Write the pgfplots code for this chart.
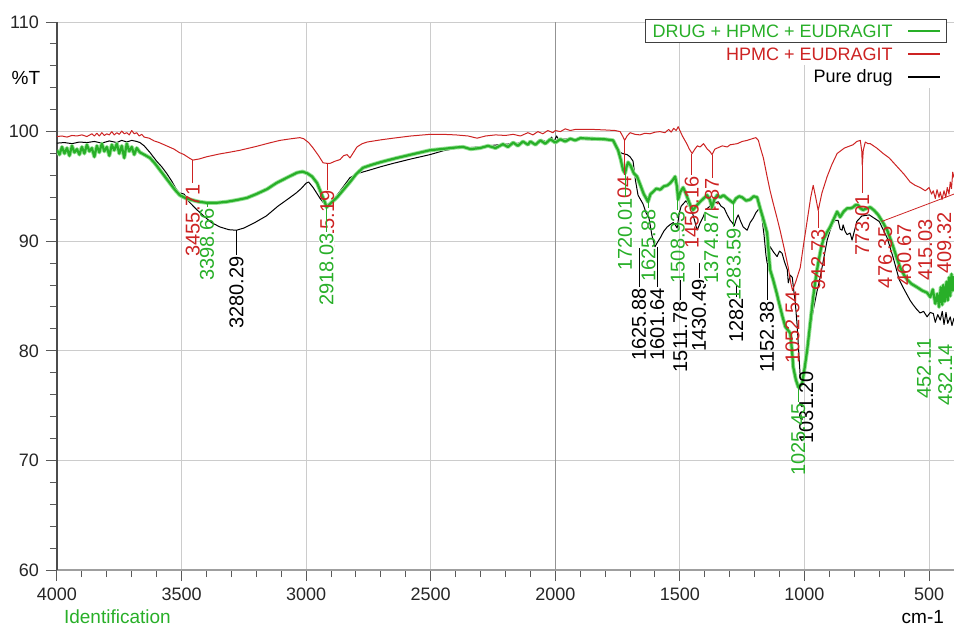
\documentclass[border=0pt]{standalone}
\usepackage{fontspec}
\setmainfont{Liberation Sans}
\usepackage{pgfplots}
\pgfplotsset{compat=1.18}
\definecolor{cgreen}{RGB}{40,175,40}
\definecolor{lgreen}{RGB}{150,225,150}
\definecolor{cred}{RGB}{205,35,35}
\newcommand{\lblfont}{\fontsize{10}{10}\selectfont}
\newcommand{\plab}[5]{\draw[#1, line width=0.4pt] (axis cs:#2,#4) -- (axis cs:#2,#3) node[rotate=90, anchor=east, inner sep=0.3pt, text=#1, font=\lblfont] {#5};}
\newcommand{\plabf}[5]{\draw[#1, line width=0.4pt] (axis cs:#2,#4) -- (axis cs:#2,#3) node[rotate=90, anchor=east, inner sep=0.3pt, fill=white, text=#1, font=\lblfont] {#5};}
\begin{document}
\begin{tikzpicture}
\begin{axis}[
  scale only axis, width=448.5pt, height=274pt,
  x dir=reverse, xmin=400, xmax=4000, ymin=60, ymax=110,
  xtick={500,1000,...,4000}, ytick={60,70,...,110},
  minor x tick num=4, minor y tick num=4,
  axis x line*=bottom, axis y line*=left,
  axis line style={-},
  x axis line style={gray!75, line width=1.3pt},
  y axis line style={black!70, line width=0.6pt},
  tick align=outside,
  major tick length=5.5pt, minor tick length=3.5pt,
  tick style={black!65, line width=0.5pt},
  grid=major,
  major grid style={gray!40, line width=0.5pt},
  ticklabel style={font=\fontsize{9}{10}\selectfont, text=black!85},
  /pgf/number format/assume math mode=true,
  /pgf/number format/1000 sep={},
  clip mode=individual,
]
\draw[gray!85, line width=0.7pt] (axis cs:2000,60) -- (axis cs:2000,110);
% Pure drug (black)
\addplot[black, line width=0.5pt, line join=round] coordinates {
(4000,98.95)(3970,99.0)(3940,98.9)(3910,99.05)(3880,99.0)(3850,99.1)(3820,98.95)(3790,99.15)(3760,99.0)(3740,99.2)(3720,99.05)(3700,99.2)(3680,99.1)(3667,99.0)(3650,98.7)(3627,98.1)(3600,97.3)(3580,96.8)(3560,96.2)(3540,95.5)(3520,94.7)(3508,94.4)(3490,94.3)(3470,93.6)(3440,92.9)(3406,92.2)(3380,91.7)(3346,91.3)(3310,91.05)(3280,91.0)(3250,91.2)(3206,91.7)(3160,92.3)(3113,93.2)(3070,93.9)(3040,94.4)(3020,94.8)(3000,95.3)(2990,95.4)(2972,94.9)(2944,93.9)(2930,93.5)(2916,93.3)(2900,93.6)(2876,94.2)(2850,95.0)(2824,95.8)(2790,96.2)(2744,96.5)(2700,96.8)(2651,97.1)(2580,97.5)(2503,97.9)(2450,98.25)(2394,98.5)(2340,98.55)(2302,98.6)(2250,98.75)(2200,98.85)(2169,98.9)(2120,99.0)(2080,98.9)(2050,99.2)(2030,99.0)(2015,99.5)(2005,99.1)(1995,99.6)(1985,99.2)(1970,99.3)(1940,99.35)(1900,99.3)(1850,99.25)(1800,99.2)(1768,99.2)(1755,98.6)(1748,98.2)(1730,98.0)(1712,97.9)(1700,97.7)(1688,97.3)(1678,95.5)(1668,94.2)(1658,93.8)(1648,93.4)(1636,92.6)(1624,92.1)(1612,90.5)(1600,89.5)(1590,89.9)(1579,90.3)(1565,90.9)(1551,91.3)(1540,91.5)(1527,91.7)(1519,91.5)(1511,91.2)(1503,92.5)(1495,93.2)(1475,93.7)(1460,93.1)(1451,92.7)(1440,91.8)(1431,91.0)(1420,91.6)(1407,92.2)(1395,92.9)(1379,93.2)(1360,93.5)(1346,93.6)(1335,93.2)(1322,93.0)(1310,92.4)(1298,91.9)(1290,91.7)(1282,91.4)(1274,92.0)(1266,92.4)(1256,91.8)(1246,91.3)(1230,91.0)(1218,91.7)(1206,92.1)(1195,92.6)(1185,92.9)(1178,93.1)(1170,92.0)(1162,90.5)(1155,88.8)(1150,88.0)(1144,88.9)(1138,89.5)(1124,89.0)(1110,88.6)(1100,89.1)(1090,88.9)(1080,88.1)(1069,87.4)(1065,86.2)(1057,86.9)(1049,86.7)(1043,85.5)(1037,84.4)(1029,82.2)(1022,79.5)(1017,77.6)(1010,77.2)(1005,77.3)(997,78.6)(989,80.3)(977,82.0)(965,83.7)(950,85.4)(937,86.7)(923,88.4)(909,90.1)(897,91.0)(887,91.6)(877,91.9)(865,91.9)(857,91.1)(849,91.0)(845,91.5)(837,90.9)(829,90.6)(817,90.75)(809,90.1)(790,91.8)(770,92.3)(740,92.4)(700,91.8)(668,90.3)(644,88.5)(620,86.5)(600,85.6)(576,84.6)(564,84.2)(550,83.8)(536,83.45)(522,83.6)(508,83.1)(495,83.5)(483,83.4)(475,82.6)(465,83.3)(455,82.8)(447,83.6)(440,82.4)(432,83.5)(425,82.5)(415,83.1)(408,82.3)(400,83.0)
};
% HPMC + EUDRAGIT (red)
\addplot[cred, line width=0.5pt, line join=round] coordinates {
(4000,99.55)(3980,99.6)(3960,99.5)(3940,99.65)(3920,99.6)(3900,99.7)(3880,99.55)(3860,99.8)(3850,99.6)(3840,99.85)(3830,99.6)(3820,99.9)(3810,99.65)(3800,99.8)(3790,99.7)(3780,100.0)(3770,99.7)(3760,99.9)(3750,99.75)(3740,100.05)(3730,99.8)(3720,99.9)(3710,99.7)(3700,100.1)(3690,99.8)(3680,99.9)(3670,99.6)(3660,99.75)(3650,99.5)(3630,99.4)(3610,99.15)(3590,99.0)(3570,98.8)(3550,98.6)(3530,98.4)(3510,98.1)(3490,97.9)(3470,97.6)(3455,97.4)(3430,97.5)(3400,97.7)(3350,97.95)(3300,98.15)(3265,98.3)(3200,98.65)(3150,98.95)(3105,99.2)(3060,99.35)(3025,99.45)(3010,99.35)(2990,99.0)(2972,98.5)(2950,97.8)(2932,97.15)(2915,97.1)(2904,97.1)(2884,97.3)(2864,97.45)(2850,97.8)(2836,97.9)(2824,97.6)(2810,98.1)(2796,98.6)(2775,98.9)(2755,99.05)(2700,99.25)(2651,99.4)(2580,99.6)(2503,99.75)(2450,99.75)(2400,99.7)(2350,99.6)(2314,99.4)(2280,99.6)(2240,99.7)(2200,99.65)(2169,99.75)(2140,99.6)(2110,99.9)(2090,99.7)(2070,100.0)(2050,99.8)(2030,100.1)(2010,99.9)(2000,100.1)(1980,100.0)(1960,100.25)(1940,100.1)(1920,100.2)(1900,100.2)(1850,100.2)(1800,100.15)(1760,100.1)(1740,100.0)(1730,99.6)(1722,99.2)(1712,99.6)(1700,99.9)(1680,99.75)(1660,99.7)(1640,99.85)(1620,99.8)(1600,99.95)(1580,100.0)(1560,99.9)(1545,100.2)(1535,99.95)(1525,100.3)(1515,100.1)(1507,100.45)(1500,100.1)(1490,99.6)(1475,99.0)(1462,98.4)(1451,98.0)(1440,98.4)(1430,98.7)(1419,98.6)(1405,98.9)(1390,98.4)(1380,98.2)(1371,97.9)(1360,98.4)(1350,98.5)(1330,98.7)(1310,98.6)(1298,98.8)(1270,98.9)(1250,99.1)(1230,99.2)(1210,99.35)(1195,99.45)(1185,99.2)(1178,98.6)(1165,97.6)(1150,95.9)(1138,94.6)(1126,93.5)(1110,92.1)(1098,91.0)(1080,89.2)(1065,87.6)(1055,86.2)(1048,85.5)(1035,86.3)(1017,87.6)(1003,89.8)(989,91.9)(975,94.0)(965,95.1)(955,94.0)(945,92.8)(930,94.4)(909,95.9)(890,97.0)(869,98.0)(840,98.5)(805,98.8)(790,99.1)(776,99.2)(770,98.2)(768,96.9)(764,98.3)(756,99.05)(745,98.9)(736,98.9)(710,98.5)(684,98.0)(660,97.6)(628,96.8)(600,96.1)(576,95.4)(556,95.1)(536,94.9)(515,94.6)(500,94.9)(490,94.3)(483,94.6)(475,93.9)(468,94.7)(460,94.0)(455,94.5)(448,93.8)(440,94.6)(433,94.0)(427,94.9)(420,94.3)(415,95.4)(410,94.8)(405,96.3)(400,95.8)
};
% DRUG + HPMC + EUDRAGIT (green)
\addplot[cgreen, line width=1.1pt, line join=round, preaction={draw, lgreen, line width=2.0pt, line join=round}] coordinates {
(4000,98.3)(3990,97.9)(3980,98.6)(3970,98.0)(3960,98.5)(3950,97.8)(3940,98.7)(3930,98.1)(3920,98.4)(3910,97.9)(3900,98.6)(3890,98.0)(3880,98.8)(3870,98.2)(3860,98.5)(3850,97.7)(3840,98.7)(3830,98.1)(3820,98.9)(3810,98.2)(3800,98.6)(3790,97.8)(3780,98.8)(3770,98.3)(3760,98.9)(3750,98.0)(3740,98.7)(3730,97.6)(3720,98.9)(3710,98.2)(3700,98.6)(3690,97.9)(3680,98.5)(3667,98.1)(3650,97.9)(3627,97.6)(3607,97.1)(3587,96.5)(3567,95.9)(3547,95.3)(3527,94.7)(3507,94.2)(3486,93.95)(3466,93.8)(3430,93.6)(3398,93.5)(3360,93.5)(3318,93.6)(3280,93.75)(3238,93.95)(3200,94.3)(3157,94.75)(3120,95.3)(3077,95.8)(3037,96.25)(3015,96.35)(2996,96.2)(2976,95.9)(2956,95.3)(2940,94.4)(2924,93.5)(2918,93.1)(2900,93.5)(2876,94.0)(2850,94.7)(2824,95.4)(2800,96.1)(2772,96.7)(2740,96.95)(2703,97.2)(2670,97.4)(2635,97.6)(2570,97.95)(2503,98.3)(2440,98.45)(2400,98.55)(2370,98.6)(2340,98.4)(2302,98.5)(2270,98.7)(2240,98.5)(2210,98.85)(2190,98.6)(2169,99.0)(2150,98.7)(2130,99.1)(2110,98.8)(2100,99.1)(2080,98.8)(2060,99.2)(2040,98.9)(2020,99.3)(2000,99.0)(1980,99.3)(1960,99.1)(1940,99.35)(1920,99.2)(1900,99.4)(1850,99.35)(1800,99.3)(1768,99.2)(1748,98.3)(1738,97.5)(1728,96.5)(1720,96.2)(1714,96.8)(1708,97.2)(1698,96.9)(1685,96.2)(1672,95.9)(1660,95.2)(1645,94.3)(1635,93.9)(1628,93.6)(1618,94.3)(1608,94.5)(1595,94.8)(1579,94.7)(1565,95.0)(1550,95.1)(1539,95.3)(1528,95.6)(1519,95.9)(1512,95.0)(1507,93.8)(1498,94.5)(1487,94.9)(1477,94.4)(1467,93.8)(1457,93.2)(1447,92.85)(1435,93.2)(1419,93.6)(1405,93.9)(1391,94.2)(1380,93.8)(1371,93.1)(1362,93.8)(1350,94.2)(1338,94.0)(1325,94.2)(1310,93.9)(1298,93.7)(1286,93.5)(1275,93.9)(1262,94.1)(1250,94.0)(1234,93.7)(1218,93.8)(1204,94.1)(1190,94.0)(1178,93.0)(1165,92.0)(1150,90.75)(1142,88.5)(1138,87.4)(1126,86.5)(1112,85.3)(1098,84.0)(1088,83.1)(1077,82.2)(1067,81.9)(1057,81.6)(1050,80.0)(1045,78.5)(1035,77.4)(1025,76.7)(1015,76.9)(1009,77.05)(999,78.5)(989,80.1)(977,82.5)(965,84.9)(955,86.6)(945,88.0)(935,89.2)(925,90.1)(910,90.8)(897,91.3)(885,91.9)(869,92.7)(857,92.2)(843,92.7)(829,93.0)(815,93.0)(805,93.1)(795,93.3)(785,93.3)(775,93.0)(765,92.85)(750,93.0)(736,93.1)(720,92.8)(704,92.4)(685,91.7)(668,91.0)(655,90.2)(644,89.5)(630,88.5)(616,87.6)(600,86.9)(588,86.5)(570,86.1)(548,85.8)(528,85.5)(508,85.3)(495,84.9)(485,85.6)(475,84.3)(467,85.2)(460,84.0)(453,85.8)(447,84.2)(443,86.0)(437,84.5)(430,86.3)(425,84.6)(420,86.7)(415,85.0)(410,87.0)(405,85.5)(400,86.8)
};
% red peak labels
\plab{cred}{3455}{95.3}{97.4}{3455.71}
\plab{cred}{2915}{94.7}{97.1}{2915.19}
\plab{cred}{1722}{96.0}{99.2}{1721.04}
\plab{cred}{1452}{96.0}{98.0}{1456.16}
\plab{cred}{1371}{95.8}{97.9}{1374.87}
\plab{cred}{1048}{85.5}{85.5}{1052.54}
\plab{cred}{945}{91.2}{92.8}{942.73}
\plab{cred}{768}{94.4}{96.9}{773.01}
\plab{cred}{676}{91.4}{91.4}{476.35}
\plab{cred}{600}{91.6}{91.6}{460.67}
\plab{cred}{515}{92.1}{92.1}{415.03}
\plab{cred}{439}{92.7}{92.7}{409.32}
\draw[cred, line width=0.4pt] (axis cs:690,91.8) -- (axis cs:400,94.3);
% black peak labels
\plab{black}{3280}{88.7}{91.0}{3280.29}
\plab{black}{1664}{85.8}{89.4}{1625.88}
\plab{black}{1591}{85.8}{89.5}{1601.64}
\plab{black}{1499}{84.6}{86.5}{1511.78}
\plab{black}{1423}{86.6}{88.0}{1430.49}
\plab{black}{1274}{84.9}{86.0}{1282}
\plab{black}{1150}{84.6}{88.0}{1152.38}
\plab{black}{993}{78.25}{78.25}{1031.20}
% green peak labels
\plab{cgreen}{3398}{93.1}{93.5}{3398.66}
\plabf{cgreen}{2918}{90.8}{93.1}{2918.03}
\plabf{cgreen}{1720}{94.0}{96.2}{1720.01}
\plab{cgreen}{1626}{93.0}{93.6}{1625.88}
\plab{cgreen}{1509}{92.85}{93.8}{1508.93}
\plabf{cgreen}{1374}{92.85}{93.1}{1374.87}
\plab{cgreen}{1284}{91.3}{93.5}{1283.59}
\plab{cgreen}{1025}{75.3}{76.7}{1025.45}
\plab{cgreen}{520}{81.2}{81.2}{452.11}
\plab{cgreen}{435}{80.7}{80.7}{432.14}
\end{axis}
% axis texts
\node[font=\fontsize{9.5}{10}\selectfont] at (-15.5pt,246pt) {\%T};
\node[anchor=west, text=cgreen, font=\fontsize{9.5}{10}\selectfont] at (0pt,-23.5pt) {Identification};
\node[anchor=east, font=\fontsize{9.5}{10}\selectfont] at (447pt,-23.5pt) {cm-1};
% legend
\fill[white] (331.5pt,252.5pt) rectangle (444.5pt,263.5pt);
\fill[white] (376pt,241pt) rectangle (444.5pt,252.5pt);
\draw[black!75, fill=white, line width=0.5pt] (294pt,263.5pt) rectangle (444.5pt,275pt);
\node[anchor=east, inner sep=0pt, text=cgreen, font=\fontsize{9}{10}\selectfont] at (418pt,269.3pt) {DRUG + HPMC + EUDRAGIT};
\draw[cgreen, line width=0.6pt] (425.5pt,269.5pt) -- (441.5pt,269.5pt);
\node[anchor=east, inner sep=0pt, text=cred, font=\fontsize{9}{10}\selectfont] at (418pt,257.8pt) {HPMC + EUDRAGIT};
\draw[cred, line width=0.6pt] (425.5pt,258pt) -- (441.5pt,258pt);
\node[anchor=east, inner sep=0pt, font=\fontsize{9}{10}\selectfont] at (418pt,246.3pt) {Pure drug};
\draw[black, line width=0.6pt] (425.5pt,246.5pt) -- (441.5pt,246.5pt);
\pgfresetboundingbox
\useasboundingbox (-28.5pt,-28.5pt) rectangle (448.5pt,285pt);
\end{tikzpicture}
\end{document}
